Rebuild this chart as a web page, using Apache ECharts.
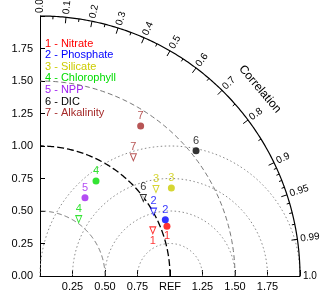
<!DOCTYPE html>
<html><head><meta charset="utf-8">
<script src="https://cdn.jsdelivr.net/npm/echarts@6/dist/echarts.min.js"></script>
<style>html,body{margin:0;padding:0;background:#fff}#c{width:320px;height:292px}</style>
</head><body><div id="c"></div>
<script>
// ---- data ----
const variables = ['Nitrate','Phosphate','Silicate','Chlorophyll','NPP','DIC','Alkalinity'];
const varColors = ['#ff0000','#0000ff','#cccc00','#00dd00','#a020f0','#000000','#a52a2a'];
// model A (filled circles): normalized std and correlation
const stdA  = [1.049, 1.057, 1.216, 0.848, 0.695, 1.539, 1.390];
const corrA = [0.931, 0.912, 0.831, 0.508, 0.498, 0.780, 0.557];
// model B (open triangles)
const stdB  = [0.936, 1.004, 1.115, 0.529, null, 0.996, 1.162];
const corrB = [0.927, 0.870, 0.800, 0.563, null, 0.798, 0.618];
// axis ticks
const sdTicks = [0, 0.25, 0.5, 0.75, 1, 1.25, 1.5, 1.75, 2];
const corrMajor = [0, 0.1, 0.2, 0.3, 0.4, 0.5, 0.6, 0.7, 0.8, 0.9, 0.95, 0.99, 1.0];
const corrMinor = [0.05,0.15,0.25,0.35,0.45,0.55,0.65,0.75,0.85,0.91,0.92,0.93,0.94,0.96,0.97,0.98];
const sdArcs = [0.5, 1.0, 1.5];
const rmsArcs = [0.25, 0.5, 0.75, 1.0];

function toXY(s, c, i){
  if (s == null) return null;
  return {value:[s*c, s*Math.sqrt(1-c*c)], idx:i};
}
const ptsA = stdA.map((s,i)=>toXY(s,corrA[i],i)).filter(Boolean);
const ptsB = stdB.map((s,i)=>toXY(s,corrB[i],i)).filter(Boolean);

const chart = echarts.init(document.getElementById('c'), null, {renderer:'canvas'});
const FONT = 'Liberation Sans, Arial, sans-serif';

function deco(params, api){
  const o = api.coord([0,0]);
  const R = api.size([1,1])[0];
  const ch = [];
  function poly(fn, n, style){
    const pts = [];
    for (let k=0;k<=n;k++){ pts.push(api.coord(fn(k/n))); }
    ch.push({type:'polyline', shape:{points:pts}, style:Object.assign({fill:null}, style), silent:true});
  }
  sdArcs.forEach(r=>{
    const st = r===1 ? {stroke:'#000', lineWidth:1.3, lineDash:[7,3]} : {stroke:'#777', lineWidth:1, lineDash:[5,3]};
    poly(t=>{const a=t*Math.PI/2; return [r*Math.cos(a), r*Math.sin(a)];}, 120, st);
  });
  rmsArcs.forEach(r=>{
    poly(t=>{const a=t*Math.PI; return [1+r*Math.cos(a), r*Math.sin(a)];}, 160, {stroke:'#888', lineWidth:1, lineDash:[1.5,2.5]});
  });
  poly(t=>{const a=t*Math.PI/2; return [2*Math.cos(a), 2*Math.sin(a)];}, 200, {stroke:'#000', lineWidth:1.2});
  function tick(c, len){
    const a = Math.acos(c);
    const p1 = api.coord([2*Math.cos(a), 2*Math.sin(a)]);
    ch.push({type:'line', shape:{x1:p1[0], y1:p1[1], x2:p1[0]-len*Math.cos(a), y2:p1[1]+len*Math.sin(a)}, style:{stroke:'#000', lineWidth:1}, silent:true});
  }
  corrMajor.forEach(c=>{ if (c>0 && c<1) tick(c, 6); });
  corrMinor.forEach(c=>tick(c, 3));
  corrMajor.forEach(c=>{
    const a = Math.acos(c);
    const rr = 2*R + 3;
    ch.push({type:'text', x:o[0]+rr*Math.cos(a), y:o[1]-rr*Math.sin(a), rotation:a,
      style:{text:String(c===0?'0.0':c===1?'1.0':c), fontSize:10, fontFamily:FONT, fill:'#000', align:'left', verticalAlign:'middle'}, silent:true});
  });
  const at = Math.acos(0.762), rt = 2.22*R;
  ch.push({type:'text', x:o[0]+rt*Math.cos(at), y:o[1]-rt*Math.sin(at), rotation:at-Math.PI/2,
    style:{text:'Correlation', fontSize:12, fontFamily:FONT, fill:'#000', align:'center', verticalAlign:'middle'}, silent:true});
  return {type:'group', children:ch};
}

const legend = variables.map((v,i)=>({type:'text', left:45, top:38+i*11.6,
  style:{text:(i+1)+' - '+v, fill:varColors[i], fontSize:11, fontFamily:FONT}}));

chart.setOption({
  animation:false,
  backgroundColor:'#fff',
  grid:{left:40, top:16, width:260, height:260, containLabel:false, outerBoundsMode:'none'},
  xAxis:{type:'value', min:0, max:2, interval:0.25,
    axisLine:{lineStyle:{color:'#000', width:1}}, splitLine:{show:false},
    axisTick:{inside:true, length:6, lineStyle:{color:'#000'}},
    axisLabel:{fontSize:11, fontFamily:FONT, color:'#000', margin:5,
      formatter:v=> (v===0||v===2)?'':(v===1?'REF':v.toFixed(2))}},
  yAxis:{type:'value', min:0, max:2, interval:0.25,
    name:'Standardized deviations (normalized)', nameLocation:'middle', nameGap:31,
    nameTextStyle:{fontSize:11, fontFamily:FONT, color:'#000'},
    axisLine:{lineStyle:{color:'#000', width:1}}, splitLine:{show:false},
    axisTick:{inside:true, length:5, lineStyle:{color:'#000'}},
    axisLabel:{fontSize:11, fontFamily:FONT, color:'#000', margin:7,
      formatter:v=> v===2?'':v.toFixed(2)}},
  graphic: legend,
  series:[
    {type:'custom', renderItem:deco, data:[[0,0]], clip:false, silent:true, z:1},
    {type:'scatter', symbol:'circle', symbolSize:7, z:5,
      data: ptsA.map(p=>({value:p.value, itemStyle:{color:varColors[p.idx]},
        label:{show:true, formatter:String(p.idx+1), position:p.idx===0?'bottom':'top', distance:1, color:varColors[p.idx], fontSize:11, fontFamily:FONT}}))},
    {type:'scatter', symbol:'triangle', symbolRotate:180, symbolSize:[6,7], z:5,
      data: ptsB.map(p=>({value:p.value, itemStyle:{color:'#fff', borderColor:varColors[p.idx], borderWidth:1},
        label:{show:true, formatter:String(p.idx+1), position:p.idx===0?'bottom':'top', distance:1, color:varColors[p.idx], fontSize:11, fontFamily:FONT}}))}
  ]
});
</script></body></html>
